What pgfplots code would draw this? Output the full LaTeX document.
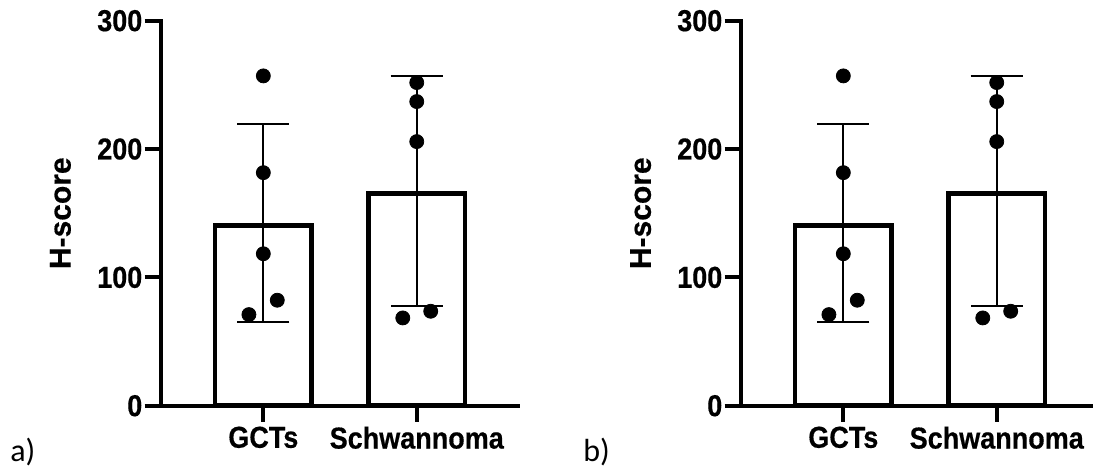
\documentclass[border=0pt]{standalone}
\usepackage{fontspec}
\setmainfont{Liberation Sans}
\newfontfamily\heavy[FakeBold=0.5]{Liberation Sans Bold}
\newfontfamily\calfont{Carlito}
\usepackage{pgfplots}
\pgfplotsset{compat=1.18}
\pgfplotsset{panel/.style={
  scale only axis, height=192.5pt, ymin=0, ymax=300,
  axis lines=left, axis line style={-, line width=2pt, line cap=rect},
  ytick={0,100,200,300}, xtick={0,1}, xticklabels={GCTs,Schwannoma},
  tick align=outside, major tick length=8pt,
  tick style={line width=2pt, black},
  tick label style={font=\fontsize{13.5}{15}\heavy, yscale=1.12},
  yticklabel style={inner xsep=1pt},
  xticklabel style={inner ysep=2pt},
  /pgf/number format/assume math mode=true,
  ylabel={H-score},
  ylabel style={font=\fontsize{15}{17}\heavy, anchor=south, inner sep=0pt},
  clip=false,
}}
\begin{document}
\begin{tikzpicture}
\useasboundingbox (0,0) rectangle (546.5pt,234pt);
% panel a
\begin{axis}[panel, at={(80.35pt,31.15pt)}, anchor=south west, width=178.8pt,
  xmin=-0.669, xmax=1.662,
  ylabel style={at={(axis description cs:-0.25,0.5)}}]
\addplot[ybar, bar width=0.63, fill=white, draw=black, line width=2.3pt] coordinates {(0,140.5) (1,165.5)};
\addplot[draw=none, mark=none, forget plot, error bars/.cd, y dir=both, y explicit,
  error bar style={draw=black, line width=0.9pt},
  error mark options={rotate=90, draw=black, line width=0.9pt, mark size=13pt}]
  coordinates {(0,142.2) +- (0,77.2) (1,167.5) +- (0,89.5)};
\addplot[only marks, mark=*, mark size=3.5pt, black] coordinates {
 (0,257) (0,181.6) (0,118.4) (0.091,82.2) (-0.094,71.0)
 (1,251.8) (1,237) (1,205.8) (1.091,73.6) (0.909,68.4)};
\end{axis}
% panel b
\begin{axis}[panel, at={(370.35pt,31.15pt)}, anchor=south west, width=175.65pt,
  xmin=-0.669, xmax=1.621,
  ylabel style={at={(axis description cs:-0.254,0.5)}}]
\addplot[ybar, bar width=0.63, fill=white, draw=black, line width=2.3pt] coordinates {(0,140.5) (1,165.5)};
\addplot[draw=none, mark=none, forget plot, error bars/.cd, y dir=both, y explicit,
  error bar style={draw=black, line width=0.9pt},
  error mark options={rotate=90, draw=black, line width=0.9pt, mark size=13pt}]
  coordinates {(0,142.2) +- (0,77.2) (1,167.5) +- (0,89.5)};
\addplot[only marks, mark=*, mark size=3.5pt, black] coordinates {
 (0,257) (0,181.6) (0,118.4) (0.091,82.2) (-0.094,71.0)
 (1,251.8) (1,237) (1,205.8) (1.091,73.6) (0.909,68.4)};
\end{axis}
\node[anchor=base west, inner sep=0pt, font=\calfont\fontsize{16}{18}\selectfont] at (5pt,3.5pt) {a)};
\node[anchor=base west, inner sep=0pt, font=\calfont\fontsize{16}{18}\selectfont] at (291.5pt,3.5pt) {b)};
\end{tikzpicture}
\end{document}
